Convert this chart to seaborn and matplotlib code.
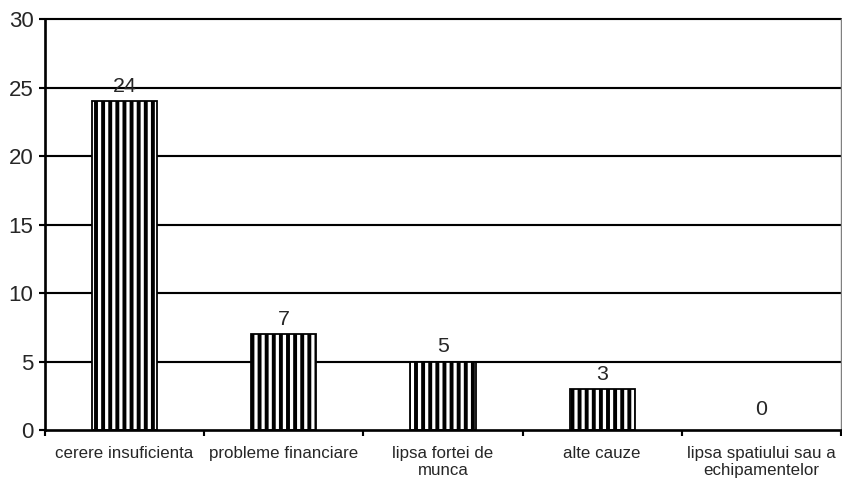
import matplotlib
matplotlib.use("Agg")
import matplotlib.pyplot as plt
import seaborn as sns
import pandas as pd

categories = ["cerere insuficienta", "probleme financiare", "lipsa fortei de\nmunca",
              "alte cauze", "lipsa spatiului sau a\nechipamentelor"]
values = [24, 7, 5, 3, 0]
yticks = [0, 5, 10, 15, 20, 25, 30]

sns.set_theme(style="white")
plt.rcParams['font.family'] = ['Liberation Sans', 'DejaVu Sans']
plt.rcParams['hatch.linewidth'] = 2.2
plt.rcParams['hatch.color'] = 'black'

DPI = 128
fig = plt.figure(figsize=(842 / DPI, 479 / DPI), dpi=DPI)
ax = fig.add_axes([45 / 842, 1 - 430 / 479, (841 - 45) / 842, (430 - 19) / 479])

df = pd.DataFrame({"cat": categories, "val": values})
sns.barplot(data=df, x="cat", y="val", ax=ax, color="white", edgecolor="black",
            linewidth=1.0, width=0.41, saturation=1)
for p in ax.patches:
    p.set_hatch("|||")
    p.set_facecolor("white")
    p.set_edgecolor("black")
    if p.get_height() == 0:
        p.set_linewidth(0)

ax.set_ylim(0, 30)
ax.set_xlim(-0.5, len(categories) - 0.5)
ax.set_yticks(yticks)
ax.set_yticklabels([str(t) for t in yticks], fontsize=12.5)
ax.set_xticks(range(len(categories)))
ax.set_xticklabels(categories, fontsize=9.5, linespacing=1.2)
ax.tick_params(axis="x", which="major", bottom=True, length=0, pad=9)
ax.set_xticks([i - 0.5 for i in range(len(categories) + 1)], minor=True)
ax.tick_params(axis="x", which="minor", bottom=True, length=3.5, width=1.2,
               color="black", direction="out")
ax.tick_params(axis="y", left=True, length=3.5, width=1.2, color="black",
               direction="out", pad=3)
ax.set_xlabel("")
ax.set_ylabel("")

for y in yticks[1:]:
    ax.axhline(y, color="black", linewidth=1.2, zorder=0.5, clip_on=False)

for s in ["left", "bottom"]:
    ax.spines[s].set_color("black")
    ax.spines[s].set_linewidth(1.5)
ax.spines["top"].set_visible(False)
ax.spines["right"].set_color("#808080")
ax.spines["right"].set_linewidth(0.8)

for i, v in enumerate(values):
    off = 3 if v > 0 else 6
    ax.annotate(str(v), (i, v), xytext=(0, off), textcoords="offset points",
                ha="center", va="bottom", fontsize=12)

fig.savefig("out.png", dpi=DPI)
